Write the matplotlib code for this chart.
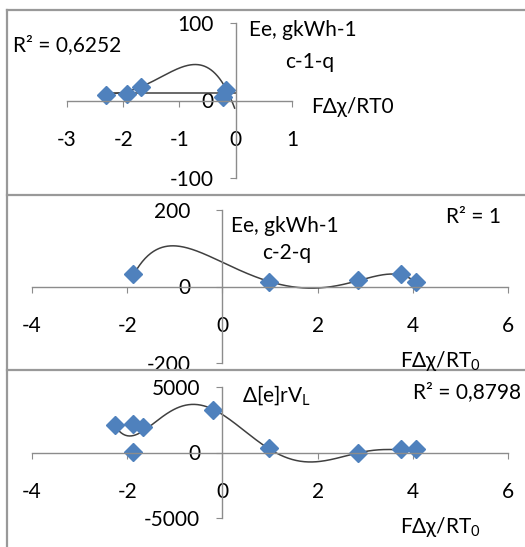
import numpy as np
import matplotlib
matplotlib.use("Agg")
import matplotlib.pyplot as plt
from matplotlib.lines import Line2D

plt.rcParams['font.family'] = ['Lato', 'DejaVu Sans']
plt.rcParams['mathtext.default'] = 'regular'
plt.rcParams['axes.unicode_minus'] = False

# panel 1 (c-1-q)
x1 = [-2.30, -1.93, -1.68, -0.18, -0.23]
y1 = [7, 9, 18, 14, 5]
flat1_x = [-2.30, 0.0]
flat1_y = [10, 10]
# trend curve
trend1_x = [-2.30, -1.93, -1.67, -1.44, -1.14, -0.82, -0.55, -0.31, -0.17, -0.08, -0.02]
trend1_y = [9, 10, 18, 28, 39, 44, 41, 31, 18, 5, -15]

# panel 2 (c-2-q)
x2 = [-1.87, 0.97, 2.84, 3.75, 4.06]
y2 = [32, 11, 16, 32, 13]
trend2_x = [-1.86, -1.65, -1.37, -1.13, -0.74, -0.32, 0.0, 0.52, 0.98, 1.36, 1.92,
            2.34, 2.84, 3.39, 3.74, 4.04]
trend2_y = [30, 73, 98, 104, 99, 82, 65, 35, 13, 0, -4, 0, 17, 30, 30, 14]

# panel 3
x3 = [-2.25, -1.88, -1.66, -1.88, -0.20, 0.98, 2.84, 3.75, 4.06]
y3 = [2090, 2140, 1970, 75, 3230, 330, -75, 250, 250]

W, H = 525, 547
BLUE = '#4F81BD'
AXC = '#8c8c8c'
FS = 15

fig = plt.figure(figsize=(W / 100, H / 100), dpi=100)


def make_axes(left, right, top, bottom):
    return fig.add_axes([left / W, 1 - bottom / H, (right - left) / W, (bottom - top) / H])


def style(ax, xlim, ylim, xticks, yticks, ypad):
    ax.set_xlim(*xlim)
    ax.set_ylim(*ylim)
    ax.patch.set_alpha(0)
    for s in ['top', 'right']:
        ax.spines[s].set_visible(False)
    ax.spines['left'].set_position(('data', 0))
    ax.spines['bottom'].set_position(('data', 0))
    for s in ['left', 'bottom']:
        ax.spines[s].set_color(AXC)
        ax.spines[s].set_linewidth(1.0)
    ax.set_xticks(xticks)
    ax.set_yticks(yticks)
    ax.tick_params(axis='x', direction='out', length=4, color=AXC, pad=17, labelsize=FS)
    ax.tick_params(axis='y', direction='out', length=4, color=AXC, pad=ypad, labelsize=FS)


def ftext(x, y, s, **kw):
    fig.text(x / W, 1 - y / H, s, fontsize=FS, va='center', **kw)


def trend(ax, tx, ty, deg):
    c = np.polyfit(tx, ty, deg)
    xs = np.linspace(min(tx), max(tx), 300)
    ax.plot(xs, np.polyval(c, xs), color='#404040', lw=1.1)


# panel 1
ax1 = make_axes(67, 292, 23, 178)
style(ax1, (-3, 1), (-100, 100), [-3, -2, -1, 0, 1], [-100, 0, 100], 12)
ax1.plot(flat1_x, flat1_y, color='#404040', lw=1.1)
trend(ax1, trend1_x, trend1_y, 4)
ax1.plot(x1, y1, 'D', color=BLUE, ms=9, mec=BLUE)
ftext(13, 45, 'R² = 0,6252')
ftext(249, 30, 'Ee, gkWh-1')
ftext(285, 62, 'c-1-q')
ftext(311, 107, 'FΔχ/RT0')

# panel 2
ax2 = make_axes(32, 508, 210, 363)
style(ax2, (-4, 6), (-200, 200), [-4, -2, 0, 2, 4, 6], [-200, 0, 200], 19)
trend(ax2, trend2_x, trend2_y, 6)
ax2.plot(x2, y2, 'D', color=BLUE, ms=9, mec=BLUE)
ftext(231, 226, 'Ee, gkWh-1')
ftext(262, 253, 'c-2-q')
ftext(446, 217, 'R² = 1')
ftext(400, 361, 'FΔχ/RT$_0$')

# panel 3
ax3 = make_axes(32, 508, 387, 518)
style(ax3, (-4, 6), (-5000, 5000), [-4, -2, 0, 2, 4, 6], [-5000, 0, 5000], 12)
trend(ax3, x3, y3, 6)
ax3.plot(x3, y3, 'D', color=BLUE, ms=9, mec=BLUE)
ftext(242, 395, 'Δ[e]rV$_L$')
ftext(413, 392, 'R² = 0,8798')
ftext(400, 527, 'FΔχ/RT$_0$')

# panel frames
for seg in [((7, 7), (10, H)), ((7, W), (10, 10)), ((7, W), (195, 195)), ((7, W), (370, 370))]:
    fig.add_artist(Line2D([p / W for p in seg[0]], [1 - p / H for p in seg[1]],
                          color='#999999', lw=1.6))

fig.savefig('out.png', dpi=100)
